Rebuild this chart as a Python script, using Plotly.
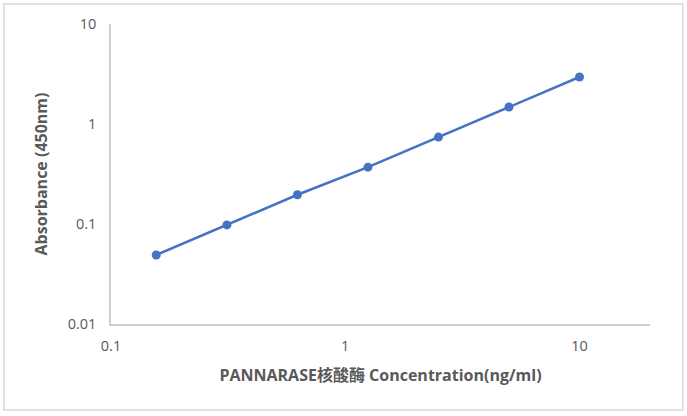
import plotly.graph_objects as go

# Standard curve data
concentration = [0.156, 0.3125, 0.625, 1.25, 2.5, 5, 10]
absorbance = [0.049, 0.098, 0.196, 0.37, 0.74, 1.48, 2.95]

x_ticks = [0.1, 1, 10]
x_tick_labels = ["0.1", "1", "10"]
y_ticks = [0.01, 0.1, 1, 10]
y_tick_labels = ["0.01", "0.1", "1", "10"]

blue = "#4472C4"
grey_text = "#595959"
axis_grey = "#D0D0D0"

fig = go.Figure()
fig.add_trace(go.Scatter(
    x=concentration, y=absorbance,
    mode="lines+markers",
    line=dict(color=blue, width=2.5),
    marker=dict(color=blue, size=9),
    showlegend=False,
))

fig.update_layout(
    width=687, height=416,
    margin=dict(l=111, r=37, t=24, b=92),
    paper_bgcolor="white",
    plot_bgcolor="white",
    font=dict(family="Open Sans, Liberation Sans, sans-serif", color=grey_text, size=14),
    xaxis=dict(
        type="log", range=[-1, 1.301],
        tickvals=x_ticks, ticktext=x_tick_labels,
        showgrid=False, zeroline=False,
        showline=True, linecolor=axis_grey, linewidth=1.5,
        ticks="", ticklen=0, ticklabelstandoff=8,
        tickfont=dict(size=14.5, color=grey_text),
        title=dict(text="<b>PANNARASE核酸酶 Concentration(ng/ml)</b>",
                   font=dict(size=16, color=grey_text,
                             family="Open Sans, Noto Sans CJK SC, sans-serif"),
                   standoff=16),
    ),
    yaxis=dict(
        type="log", range=[-2, 1],
        tickvals=y_ticks, ticktext=y_tick_labels,
        showgrid=False, zeroline=False,
        showline=True, linecolor=axis_grey, linewidth=1.5,
        ticks="", ticklen=0, ticklabelstandoff=10,
        tickfont=dict(size=14.5, color=grey_text),
        title=dict(text="<b>Absorbance (450nm)</b>",
                   font=dict(size=16, color=grey_text),
                   standoff=16),
    ),
)

# light frame around the whole chart area
fig.add_shape(
    type="rect", xref="paper", yref="paper",
    x0=-0.1985, x1=1.061, y0=-0.287, y1=1.0667,
    line=dict(color="#D9D9D9", width=1.5),
    fillcolor="rgba(0,0,0,0)", layer="below",
)

# drop the default page margin so the figure sits at the window corner
fig.write_html("out.html", config={"displayModeBar": False},
               post_script="document.body.style.margin='0';")
